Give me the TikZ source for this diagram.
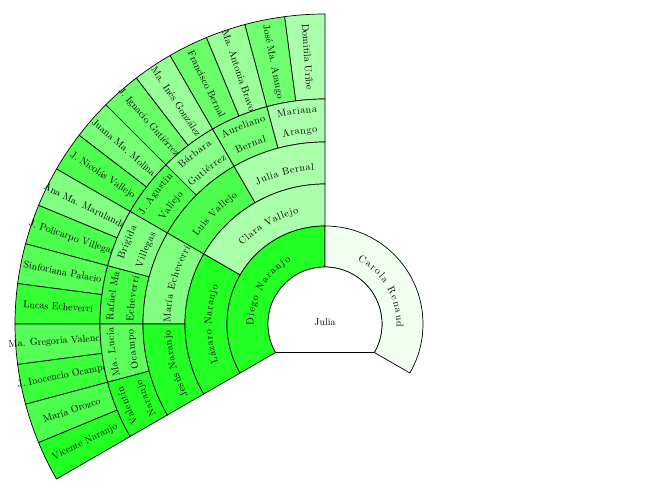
\documentclass[tikz,border=0pt]{standalone}
\usetikzlibrary{decorations.text}
\definecolor{cA}{HTML}{22FF22}
\definecolor{cB}{HTML}{AAFFAA}
\definecolor{cC}{HTML}{4CFF4C}
\definecolor{cD}{HTML}{80FF80}
\definecolor{cE}{HTML}{77FF77}
\definecolor{cF}{HTML}{6AFF6A}
\definecolor{cG}{HTML}{99FF99}
\definecolor{cH}{HTML}{88FF88}
\definecolor{cI}{HTML}{44FF44}
\definecolor{cJ}{HTML}{5CFF5C}
\definecolor{cK}{HTML}{55FF55}
\definecolor{cL}{HTML}{33FF33}
\definecolor{cM}{HTML}{3AFF3A}
\definecolor{cN}{HTML}{F0FFF0}
\definecolor{cO}{HTML}{70FF70}
\tikzset{cell/.style={draw=black, line width=0.7pt}}
\newcommand\sect[5]{%
  \filldraw[cell, fill=#5] (#3:#1pt) arc[start angle=#3, end angle=#4, radius=#1pt]
    -- (#4:#2pt) arc[start angle=#4, end angle=#3, radius=#2pt] -- cycle;}
\newcommand\arcline[3]{%
  \pgfmathsetmacro\arcW{width("#3")*(1+17.5/#1)}%
  \pgfmathsetmacro\arcS{#2+\arcW*28.6479/#1}%
  \pgfmathsetmacro\arcE{#2-\arcW*28.6479/#1}%
  \path[decorate,decoration={text along path,text={#3},text align=fit to path}]
    (\arcS:#1pt) arc[start angle=\arcS, end angle=\arcE, radius=#1pt];%
}
\begin{document}
\begin{tikzpicture}
\useasboundingbox (-325pt,-171pt) rectangle (325pt,324pt);
% ring 5
\foreach \i/\c in {1/cB,2/cO,3/cG,4/cF,5/cG,6/cF,7/cE,8/cC,9/cD,10/cC,11/cK,12/cL,13/cK,14/cM,15/cC,16/cA}{
  \pgfmathsetmacro\aa{82.5+7.5*\i}
  \pgfmathsetmacro\ab{90+7.5*\i}
  \sect{225}{310}{\aa}{\ab}{\c}
}
\foreach \i/\n in {1/Domitila Uribe,2/José Ma. Arango,3/Ma. Antonia Bravo,4/Francisco Bernal,
  5/Ma. Inés González,6/J. Ignacio Gutiérrez,7/Juana Ma. Molina,8/J. Nicolás Vallejo,
  9/Ana Ma. Marulanda,10/J. Policarpo Villegas,11/Sinforiana Palacio,12/Lucas Echeverri,
  13/Ma. Gregoria Valencia,14/J. Inocencio Ocampo,15/María Orozco,16/Vicente Naranjo}{
  \pgfmathsetmacro\am{86.25+7.5*\i}
  \node[rotate=\am+180, inner sep=0pt] (p\i) at (\am:267.5pt) {\n};
}
% ring 4
\foreach \i/\c in {1/cB,2/cE,3/cH,4/cC,5/cD,6/cI,7/cJ,8/cA}{
  \pgfmathsetmacro\aa{75+15*\i}
  \pgfmathsetmacro\ab{90+15*\i}
  \sect{182}{225}{\aa}{\ab}{\c}
}
\arcline{211.5}{97.5}{Mariana}
\arcline{191.5}{97.5}{Arango}
\arcline{211.5}{112.5}{Aureliano}
\arcline{191.5}{112.5}{Bernal}
\arcline{211.5}{127.5}{Bárbara}
\arcline{191.5}{127.5}{Gutiérrez}
\arcline{211.5}{142.5}{J. Agustín}
\arcline{191.5}{142.5}{Vallejo}
\arcline{211.5}{157.5}{Brígida}
\arcline{191.5}{157.5}{Villegas}
\arcline{211.5}{172.5}{Rafael Ma}
\arcline{191.5}{172.5}{Echeverri}
\arcline{211.5}{187.5}{Ma. Lucía}
\arcline{191.5}{187.5}{Ocampo}
\arcline{211.5}{202.5}{Valentín}
\arcline{191.5}{202.5}{Naranjo}
% ring 3
\sect{140}{182}{90}{120}{cB}
\sect{140}{182}{120}{150}{cC}
\sect{140}{182}{150}{180}{cD}
\sect{140}{182}{180}{210}{cA}
\arcline{154.5}{105}{Julia Bernal}
\arcline{154.5}{135}{Luis Vallejo}
\arcline{154.5}{165}{María Echeverri}
\arcline{154.5}{195}{Jesús Naranjo}
% ring 2
\sect{98}{140}{90}{150}{cB}
\sect{98}{140}{150}{210}{cA}
\arcline{113.5}{120}{Clara Vallejo}
\arcline{113.5}{180}{Lázaro Naranjo}
% ring 1
\sect{57}{98}{90}{210}{cA}
\sect{57}{98}{-30}{90}{cN}
\arcline{71.5}{150}{Diego Naranjo}
\arcline{71.5}{30}{Carola Renaud}
% centre
\filldraw[cell, fill=white] (-30:57pt) arc[start angle=-30, end angle=210, radius=57pt] -- cycle;
\node (julia) at (0pt,2pt) {Julia};
\end{tikzpicture}
\end{document}
